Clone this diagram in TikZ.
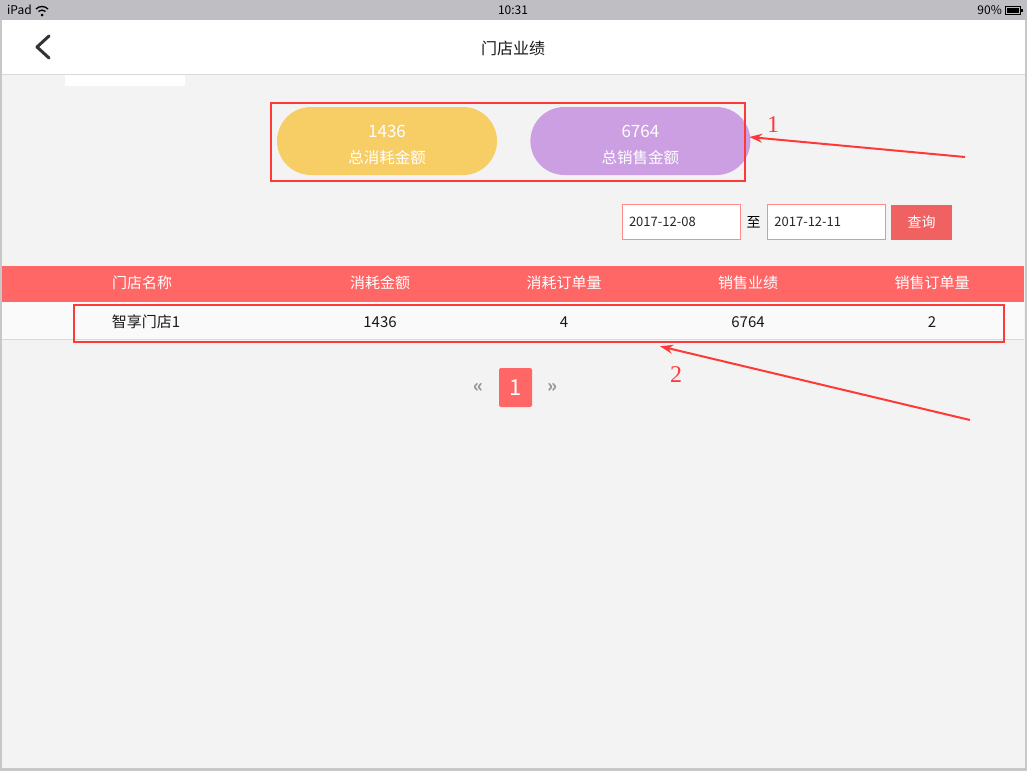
\documentclass[tikz,border=0pt]{standalone}
\usepackage{fontspec}
\setmainfont{Noto Sans CJK SC}
\newfontfamily\markfont{Liberation Serif}
\usetikzlibrary{arrows.meta, positioning, calc}
\definecolor{pagebg}{HTML}{F3F3F3}
\definecolor{statusbg}{HTML}{BEBEC3}
\definecolor{pillyellow}{HTML}{F7CD66}
\definecolor{pillpurple}{HTML}{CB9FE1}
\definecolor{headred}{HTML}{FF6767}
\definecolor{markred}{HTML}{FF3838}
\definecolor{inputline}{HTML}{FF8A8A}
\definecolor{btnred}{HTML}{F06262}
\definecolor{rowbg}{HTML}{FAFAFA}
\tikzstyle{pill} = [rectangle, rounded corners=34pt, minimum width=220pt, minimum height=68pt, inner sep=0pt]
\tikzstyle{pilltext} = [text centered, align=center, text=white, inner sep=0pt]
\tikzstyle{markbox} = [rectangle, draw=markred, line width=2.5pt, inner sep=0pt]
\tikzstyle{datebox} = [rectangle, draw=inputline, fill=white, line width=1pt, minimum width=118pt, minimum height=35pt, text width=104pt, font=\fontsize{13}{13}\selectfont, text=black!85]
\tikzstyle{headcell} = [text=white, font=\fontsize{15}{15}\selectfont]
\tikzstyle{rowcell} = [text=black!90, font=\fontsize{15}{15}\selectfont]
\tikzstyle{marklabel} = [text=markred, font=\markfont\fontsize{24}{24}\selectfont]
\tikzstyle{markarrow} = [draw=markred, line width=2pt, -{Stealth[length=13pt, width=9pt]}]
\tikzstyle{pagerarrow} = [text=black!40, font=\bfseries\fontsize{18}{18}\selectfont, inner sep=0pt]

\begin{document}
\begin{tikzpicture}[x=1pt, y=-1pt]
\useasboundingbox (0,0) rectangle (1027,771);
\fill[pagebg] (0,0) rectangle (1027,771);
\fill[black!22] (1025,0) rectangle (1027,771);
\fill[black!22] (0,768) rectangle (1027,771);
\fill[black!22] (0,0) rectangle (1.5,771);

% status bar
\node (statusbar) [rectangle, fill=statusbg, minimum width=1027pt, minimum height=20pt, inner sep=0pt, anchor=north west] at (0,0) {};
\node (ipad) [anchor=west, font=\fontsize{12}{12}\selectfont, inner sep=0pt] at (7,10) {iPad};
\node (clock) [font=\fontsize{12}{12}\selectfont, inner sep=0pt] at (513,10) {10:31};
\node (charge) [anchor=east, font=\fontsize{12}{12}\selectfont, inner sep=0pt] at (1002,10) {90\%};
\begin{scope}[shift={(42,15)}]
  \fill (0,0) circle (1.5);
  \draw[line width=1.3pt] (225:5) arc[start angle=225, end angle=315, radius=5];
  \draw[line width=1.3pt] (225:8.5) arc[start angle=225, end angle=315, radius=8.5];
\end{scope}
\draw[line width=0.8pt] (1005,6) rectangle (1020,14);
\fill (1006.5,7.5) rectangle (1018.5,12.5);
\fill (1021,8.5) rectangle (1022.5,11.5);

% navigation bar
\node (navbar) [rectangle, fill=white, minimum width=1023.5pt, minimum height=54pt, inner sep=0pt, anchor=north west] at (1.5,20) {};
\draw[black!15, line width=1pt] (navbar.south west) -- (navbar.south east);
\node (patch) [rectangle, fill=white, minimum width=120pt, minimum height=11pt, inner sep=0pt, anchor=north west] at (65,74.5) {};
\draw[black!80, line width=3pt, line cap=round, line join=round] (49,36) -- (37,47) -- (49,58);
\node (title) [font=\fontsize{16}{16}\selectfont, text=black!90] at (513,48) {门店业绩};

% totals
\node (spend) [pill, fill=pillyellow] at (387,141) {};
\node (sales) [pill, fill=pillpurple, right=33pt of spend] {};
\node (spendtext) [pilltext] at ([yshift=-4pt]spend.center) {{\fontsize{17}{17}\selectfont 1436}\\[12pt]{\fontsize{15.5}{15.5}\selectfont 总消耗金额}};
\node (salestext) [pilltext] at ([yshift=-4pt]sales.center) {{\fontsize{17}{17}\selectfont 6764}\\[12pt]{\fontsize{15.5}{15.5}\selectfont 总销售金额}};
\node (box1) [markbox, minimum width=474pt, minimum height=78pt] at (508,142) {};

% date filter
\node (from) [datebox] at (681,222) {2017-12-08};
\node (to) [font=\fontsize{14}{14}\selectfont, right=6pt of from, inner sep=0pt] {至};
\node (until) [datebox, right=6pt of to] {2017-12-11};
\node (query) [rectangle, fill=btnred, text=white, minimum width=61pt, minimum height=35pt, font=\fontsize{14}{14}\selectfont, right=5pt of until] {查询};

% table
\node (header) [rectangle, fill=headred, minimum width=1022pt, minimum height=36pt, inner sep=0pt, anchor=north west] at (2,266) {};
\node (row) [rectangle, fill=rowbg, minimum width=1022pt, minimum height=37pt, inner sep=0pt, anchor=north west] at (2,302) {};
\draw[black!15, line width=1pt] (row.south west) -- (row.south east);
\node (h1) [headcell] at (142,283) {门店名称};
\node (h2) [headcell] at (380,283) {消耗金额};
\node (h3) [headcell] at (564,283) {消耗订单量};
\node (h4) [headcell] at (748,283) {销售业绩};
\node (h5) [headcell] at (932,283) {销售订单量};
\node (c1) [rowcell] at (146,322) {智享门店1};
\node (c2) [rowcell] at (380,322) {1436};
\node (c3) [rowcell] at (564,322) {4};
\node (c4) [rowcell] at (748,322) {6764};
\node (c5) [rowcell] at (932,322) {2};
\node (box2) [markbox, minimum width=930pt, minimum height=37pt] at (539,323.5) {};

% pager
\node (page) [rectangle, rounded corners=2pt, fill=headred, text=white, minimum width=33pt, minimum height=39pt, font=\fontsize{22}{22}\selectfont] at (515.5,387.5) {1};
\node (prev) [pagerarrow, left=15pt of page] {«};
\node (next) [pagerarrow, right=15pt of page] {»};

% callouts
\coordinate (tail1) at (965,157);
\coordinate (tail2) at (970,420);
\node (mark1) [marklabel] at (773,125) {1};
\node (mark2) [marklabel] at (676,375) {2};
\draw[markarrow] (tail1) -- ([xshift=3pt, yshift=5pt]box1.east);
\draw[markarrow] (tail2) -- ([xshift=121pt, yshift=-3pt]box2.south);

\end{tikzpicture}
\end{document}
